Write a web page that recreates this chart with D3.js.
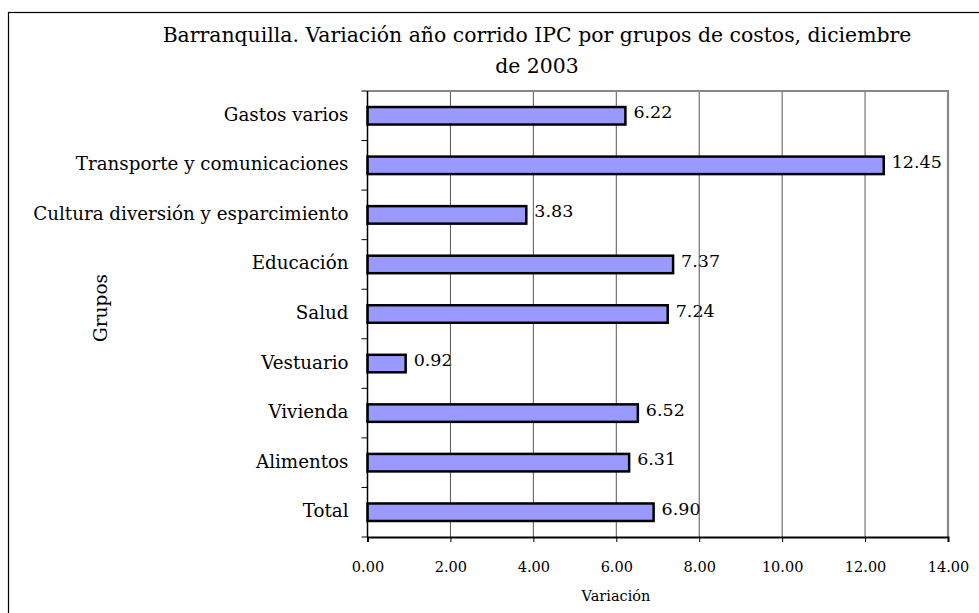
<!DOCTYPE html>
<meta charset="utf-8">
<style>
    body { margin: 0; background: #fff; }
    text { font-family: "DejaVu Serif", serif; fill: #000; }
</style>
<body>
<script src="https://cdn.jsdelivr.net/npm/d3@7/dist/d3.min.js"></script>
<script>

var groups = ["Gastos varios", "Transporte y comunicaciones", "Cultura diversión y esparcimiento",
              "Educación ", "Salud", "Vestuario", "Vivienda", "Alimentos", "Total"];
var values = [6.22, 12.45, 3.83, 7.37, 7.24, 0.92, 6.52, 6.31, 6.90];
var xTicks = [0, 2, 4, 6, 8, 10, 12, 14];
var titleLines = ["Barranquilla. Variación año corrido IPC por grupos de costos, diciembre", "de 2003"];

var W = 979, H = 613;
var plot = {left: 367.5, top: 91, right: 948, bottom: 537};

var svg = d3.select("body").append("svg")
    .attr("width", W)
    .attr("height", H);

// outer frame (only left/top show in the picture)
svg.append("rect")
    .attr("x", 8.5).attr("y", 12.5)
    .attr("width", W + 20).attr("height", H + 20)
    .style("fill", "none").style("stroke", "#000").style("stroke-width", 1.2);

var x = d3.scaleLinear().domain([0, 14]).range([plot.left, plot.right]);
var band = d3.scaleBand().domain(groups).range([plot.top, plot.bottom]);
var barH = 17.5;

// value labels (drawn first: gridlines cross them in the original)
svg.append("g").selectAll("text")
    .data(values)
  .enter().append("text")
    .attr("x", function(d) { return x(d) + 8; })
    .attr("y", function(d, i) { return band(groups[i]) + band.bandwidth() / 2 + 2.5; })
    .style("font-size", "17.5px")
    .text(function(d) { return d.toFixed(2); });

// gridlines
svg.append("g").selectAll("line")
    .data(xTicks.slice(1, -1))
  .enter().append("line")
    .attr("x1", function(d) { return x(d); })
    .attr("x2", function(d) { return x(d); })
    .attr("y1", plot.top).attr("y2", plot.bottom)
    .style("stroke", "#555").style("stroke-width", 1);

// plot frame top / right
svg.append("path")
    .attr("d", "M" + plot.left + "," + plot.top + "H" + plot.right + "V" + plot.bottom)
    .style("fill", "none").style("stroke", "#888").style("stroke-width", 2.2);

// bars
svg.append("g").selectAll("rect")
    .data(values)
  .enter().append("rect")
    .attr("x", x(0))
    .attr("y", function(d, i) { return band(groups[i]) + band.bandwidth() / 2 - barH / 2; })
    .attr("width", function(d) { return x(d) - x(0); })
    .attr("height", barH)
    .style("fill", "#9999ff")
    .style("stroke", "#000").style("stroke-width", 2.5);

// x axis
var xAxis = svg.append("g")
    .attr("transform", "translate(0," + plot.bottom + ")")
    .call(d3.axisBottom(x).tickValues(xTicks).tickSize(5).tickPadding(20)
        .tickFormat(function(d) { return d.toFixed(2); }));
xAxis.select(".domain").style("stroke", "#000").style("stroke-width", 2);
xAxis.selectAll(".tick line").style("stroke", "#000");
xAxis.selectAll("text").style("font-size", "14.5px").style("font-family", "DejaVu Serif, serif");

// y axis: ticks at the band boundaries
var yAxis = svg.append("g")
    .attr("transform", "translate(" + plot.left + ",0)");
yAxis.append("line")
    .attr("y1", plot.top).attr("y2", plot.bottom)
    .style("stroke", "#000").style("stroke-width", 1.5);
yAxis.selectAll(".bt")
    .data(groups.concat(["__end"]))
  .enter().append("line")
    .attr("x1", -6).attr("x2", 0)
    .attr("y1", function(d, i) { return plot.top + i * band.step(); })
    .attr("y2", function(d, i) { return plot.top + i * band.step(); })
    .style("stroke", "#000");
yAxis.selectAll(".lab")
    .data(groups)
  .enter().append("text")
    .attr("x", -19)
    .attr("y", function(d) { return band(d) + band.bandwidth() / 2 + 5; })
    .attr("text-anchor", "end")
    .style("font-size", "18.3px")
    .text(function(d) { return d; });

// titles
svg.append("g").selectAll("text")
    .data(titleLines)
  .enter().append("text")
    .attr("x", 537)
    .attr("y", function(d, i) { return 41.5 + i * 31; })
    .attr("text-anchor", "middle")
    .style("font-size", "20.4px")
    .text(function(d) { return d; });

svg.append("text")
    .attr("x", 616).attr("y", 601)
    .attr("text-anchor", "middle")
    .style("font-size", "14.5px")
    .text("Variación");

svg.append("text")
    .attr("transform", "translate(107,308) rotate(-90)")
    .attr("text-anchor", "middle")
    .style("font-size", "18.5px")
    .text("Grupos");

</script>
</body>
